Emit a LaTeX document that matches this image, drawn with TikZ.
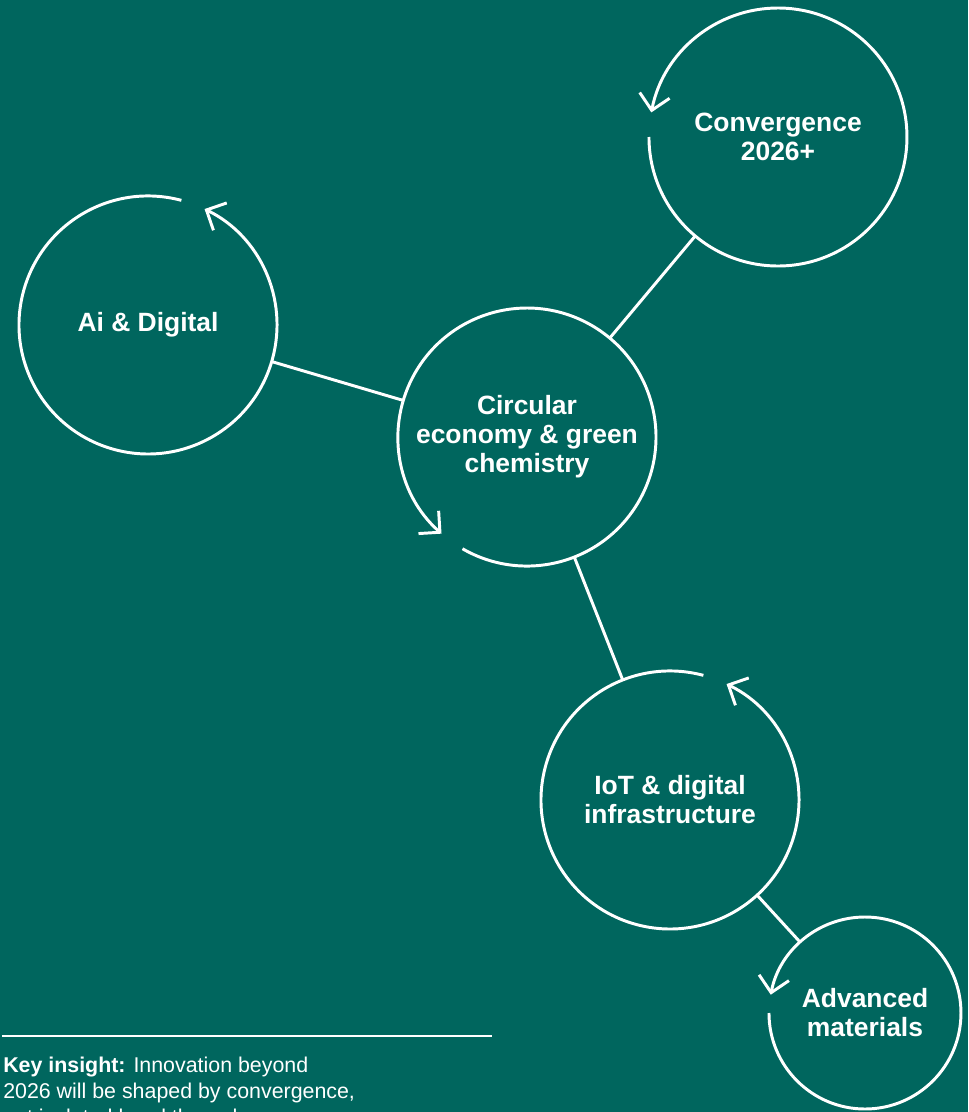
\documentclass[tikz,border=0pt]{standalone}
\usepackage{fontspec}
\setmainfont{Liberation Sans}
\usetikzlibrary{arrows.meta}
\definecolor{bgteal}{RGB}{0,102,94}
\tikzset{
  hub/.style = {circle, minimum size=6.45cm, inner sep=0pt, outer sep=0pt, text=white, align=center, font=\bfseries\fontsize{18.8}{20.6}\selectfont},
  ring/.style = {draw=white, line width=2.1pt, -{Straight Barb[length=3.8mm, width=7.6mm]}},
  link/.style = {draw=white, line width=2.1pt},
  rule/.style = {draw=white, line width=1.8pt},
  note/.style = {anchor=north west, inner sep=0pt, text=white, align=left, font=\fontsize{15.2}{18.5}\selectfont}
}
\begin{document}
\begin{tikzpicture}[x=0.025cm, y=0.025cm]
  \useasboundingbox (0,0) rectangle (968,-1112);
  \fill[bgteal] (0,0) rectangle (968,-1112);
  \clip (0,0) rectangle (968,-1112);
  % topics
  \node[hub] (conv) at (778,-137) {Convergence\\2026+};
  \node[hub] (ai) at (148,-325) {Ai \& Digital};
  \node[hub] (circ) at (527,-437) {Circular\\economy \& green\\chemistry};
  \node[hub] (iot) at (670,-800) {IoT \& digital\\infrastructure};
  \node[hub, minimum size=4.8cm] (adv) at (865,-1013) {Advanced\\materials};
  % open rings with arrow
  \draw[ring] (conv.180) arc[start angle=180, end angle=529, radius=129];
  \draw[ring] (ai.75) arc[start angle=75, end angle=424, radius=129];
  \draw[ring] (circ.240) arc[start angle=240, end angle=588.5, radius=129];
  \draw[ring] (iot.75) arc[start angle=75, end angle=424, radius=129];
  \draw[ring] (adv.180) arc[start angle=180, end angle=529, radius=96];
  % links
  \draw[link] (conv) -- (circ);
  \draw[link] (ai) -- (circ);
  \draw[link] (circ) -- (iot);
  \draw[link] (iot) -- (adv);
  % footnote
  \draw[rule] (2,-1036) -- (492,-1036);
  \node[note] (insight) at (3,-1057) {\textbf{Key insight:} Innovation beyond\\2026 will be shaped by convergence,\\not isolated breakthroughs.};
\end{tikzpicture}
\end{document}
